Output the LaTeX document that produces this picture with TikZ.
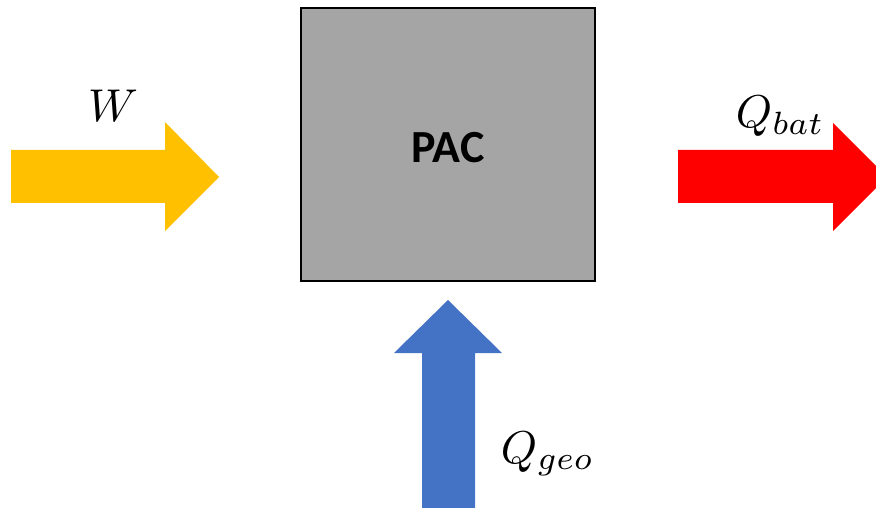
\documentclass[tikz,border=0pt]{standalone}
\usepackage{fontspec}
\newfontfamily\calib{Carlito}
\definecolor{boxgray}{HTML}{A5A5A5}
\definecolor{wyellow}{HTML}{FFC000}
\definecolor{qred}{HTML}{FF0000}
\definecolor{qblue}{HTML}{4472C4}
\tikzset{
  lbl/.style={inner sep=0pt, scale=4.6},
}
\begin{document}
\begin{tikzpicture}[x=1pt,y=-1pt]
\useasboundingbox (0,0) rectangle (876,508);
% box
\node[draw=black, line width=2.5pt, fill=boxgray, minimum width=294pt, minimum height=273pt, inner sep=0pt] (pac) at (448,144.5) {};
\node[inner sep=0pt, font=\calib\bfseries\fontsize{46}{55}\selectfont] (pactext) at (448,148) {PAC};
% W arrow (yellow)
\fill[wyellow] (11,150) -- (165,150) -- (165,122) -- (219,177) -- (165,231) -- (165,203) -- (11,203) -- cycle;
% Q_bat arrow (red)
\fill[qred] (678,150) -- (833,150) -- (833,123) -- (887,177) -- (833,231) -- (833,203) -- (678,203) -- cycle;
% Q_geo arrow (blue)
\fill[qblue] (422,508) -- (422,353) -- (394,353) -- (448,300) -- (502,353) -- (475,353) -- (475,508) -- cycle;
% labels
\node[lbl, anchor=base] (w) at (113,122) {$W$};
\node[lbl, anchor=base west] (qbat) at (735,128) {$Q_{bat}$};
\node[lbl, anchor=base west] (qgeo) at (500,463) {$Q_{geo}$};
\end{tikzpicture}
\end{document}
